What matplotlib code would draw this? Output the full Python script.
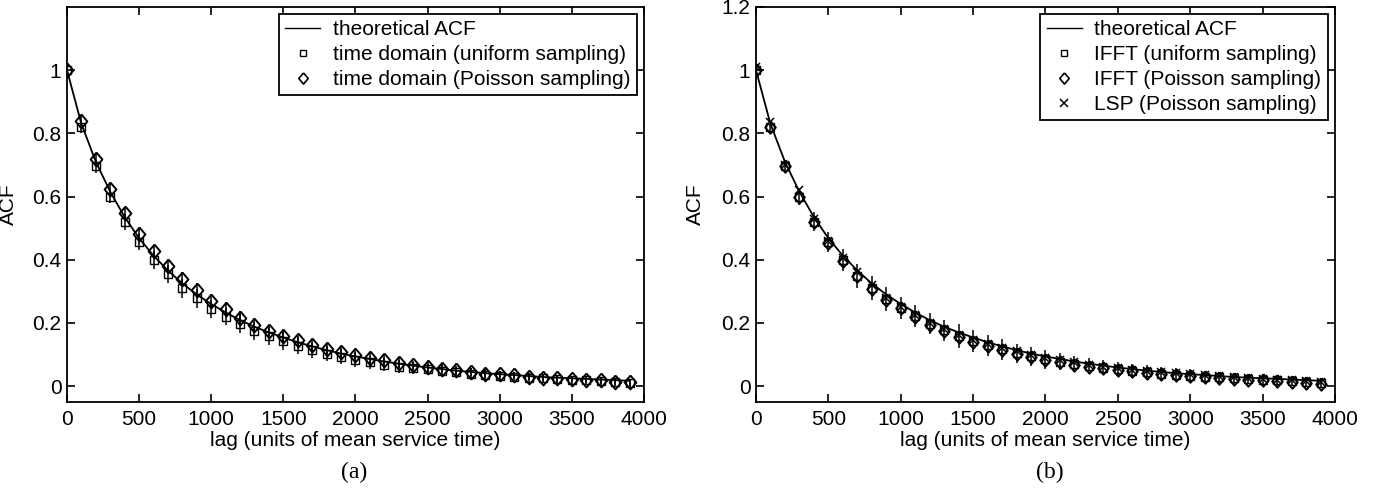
import numpy as np
import matplotlib
matplotlib.use('Agg')
import matplotlib.pyplot as plt
from matplotlib.lines import Line2D

plt.rcParams['font.family'] = ['Liberation Sans', 'DejaVu Sans']

## lags (units of mean service time)
lags = [0, 100, 200, 300, 400, 500, 600, 700, 800, 900,
        1000, 1100, 1200, 1300, 1400, 1500, 1600, 1700, 1800, 1900,
        2000, 2100, 2200, 2300, 2400, 2500, 2600, 2700, 2800, 2900,
        3000, 3100, 3200, 3300, 3400, 3500, 3600, 3700, 3800, 3900]

## theoretical ACF
theory = [1.0, 0.83, 0.71, 0.615, 0.535, 0.468, 0.413, 0.366, 0.325, 0.29,
          0.26, 0.233, 0.209, 0.188, 0.17, 0.154, 0.139, 0.126, 0.114, 0.103,
          0.094, 0.086, 0.078, 0.071, 0.065, 0.059, 0.054, 0.049, 0.045, 0.041,
          0.038, 0.035, 0.032, 0.029, 0.027, 0.025, 0.023, 0.021, 0.019, 0.017]

## (a) time domain, uniform sampling
td_uni = [1.0, 0.82, 0.695, 0.60, 0.52, 0.455, 0.40, 0.355, 0.31, 0.278,
          0.245, 0.22, 0.197, 0.175, 0.158, 0.142, 0.128, 0.115, 0.103, 0.093,
          0.084, 0.075, 0.068, 0.062, 0.057, 0.053, 0.048, 0.044, 0.04, 0.036,
          0.033, 0.03, 0.027, 0.025, 0.022, 0.02, 0.018, 0.016, 0.013, 0.01]
td_uni_err = [0.005, 0.02, 0.02, 0.022, 0.025, 0.025, 0.028, 0.028, 0.03, 0.03,
              0.028, 0.028, 0.03, 0.028, 0.028, 0.028, 0.026, 0.026, 0.024, 0.024,
              0.024, 0.022, 0.02, 0.02, 0.02, 0.018, 0.018, 0.016, 0.016, 0.016,
              0.015, 0.015, 0.014, 0.014, 0.013, 0.013, 0.012, 0.012, 0.012, 0.012]

## (a) time domain, Poisson sampling
td_poi = [1.0, 0.84, 0.72, 0.625, 0.547, 0.483, 0.428, 0.38, 0.34, 0.303,
          0.271, 0.244, 0.217, 0.194, 0.175, 0.159, 0.145, 0.13, 0.119, 0.108,
          0.099, 0.09, 0.082, 0.074, 0.066, 0.06, 0.055, 0.05, 0.045, 0.04,
          0.037, 0.034, 0.03, 0.027, 0.025, 0.022, 0.02, 0.018, 0.014, 0.012]
td_poi_err = [0.005, 0.015, 0.015, 0.018, 0.018, 0.02, 0.02, 0.022, 0.022, 0.022,
              0.022, 0.022, 0.022, 0.022, 0.02, 0.02, 0.02, 0.02, 0.018, 0.018,
              0.018, 0.016, 0.016, 0.016, 0.015, 0.015, 0.014, 0.014, 0.013, 0.013,
              0.012, 0.012, 0.012, 0.011, 0.011, 0.01, 0.01, 0.01, 0.01, 0.01]

## (b) IFFT uniform / Poisson, LSP Poisson
ifft_uni = [1.0, 0.82, 0.695, 0.60, 0.52, 0.455, 0.398, 0.35, 0.31, 0.275,
            0.247, 0.222, 0.198, 0.177, 0.158, 0.143, 0.129, 0.116, 0.104, 0.094,
            0.085, 0.077, 0.07, 0.064, 0.058, 0.054, 0.049, 0.044, 0.04, 0.036,
            0.033, 0.03, 0.028, 0.025, 0.022, 0.02, 0.018, 0.016, 0.013, 0.01]
ifft_poi = [1.0, 0.82, 0.695, 0.60, 0.52, 0.453, 0.396, 0.35, 0.308, 0.273,
            0.246, 0.22, 0.195, 0.175, 0.155, 0.14, 0.127, 0.114, 0.102, 0.092,
            0.083, 0.075, 0.068, 0.062, 0.056, 0.052, 0.047, 0.042, 0.038, 0.034,
            0.031, 0.028, 0.026, 0.023, 0.02, 0.018, 0.016, 0.014, 0.011, 0.008]
lsp_poi = [1.01, 0.835, 0.70, 0.62, 0.53, 0.46, 0.405, 0.36, 0.32, 0.28,
           0.25, 0.225, 0.2, 0.18, 0.163, 0.147, 0.133, 0.12, 0.11, 0.1,
           0.09, 0.082, 0.075, 0.068, 0.062, 0.058, 0.052, 0.048, 0.045, 0.041,
           0.04, 0.034, 0.031, 0.03, 0.027, 0.024, 0.021, 0.019, 0.016, 0.012]
ifft_err = [0.005, 0.015, 0.02, 0.028, 0.03, 0.032, 0.035, 0.038, 0.038, 0.038,
            0.035, 0.035, 0.033, 0.033, 0.038, 0.035, 0.033, 0.033, 0.03, 0.03,
            0.03, 0.027, 0.024, 0.024, 0.024, 0.022, 0.022, 0.022, 0.02, 0.02,
            0.02, 0.018, 0.018, 0.018, 0.016, 0.016, 0.016, 0.015, 0.015, 0.015]

xticks = [0, 500, 1000, 1500, 2000, 2500, 3000, 3500, 4000]
FS = 15

## diamond a bit narrower than tall
diamond = [(0, 1), (0.85, 0), (0, -1), (-0.85, 0), (0, 1)]

fig = plt.figure(figsize=(13.78, 4.92), dpi=100)
axa = fig.add_axes([0.0486, 0.183, 0.4187, 0.803])
axb = fig.add_axes([0.5486, 0.183, 0.4202, 0.803])


def style_axes(ax, yticks, ylab_x):
    ax.set_xlim(0, 4000)
    ax.set_ylim(-0.05, 1.2)
    ax.set_xticks(xticks)
    ax.set_yticks(yticks)
    ax.set_yticklabels(['%g' % v for v in yticks])
    ax.tick_params(direction='in', top=True, right=True, length=6, width=1.2,
                   labelsize=FS, pad=4)
    ax.tick_params(axis='x', pad=6)
    for s in ax.spines.values():
        s.set_linewidth(1.3)
    ax.set_xlabel('lag (units of mean service time)', fontsize=FS, labelpad=1)
    ax.set_ylabel('ACF', fontsize=FS)
    ax.yaxis.set_label_coords(ylab_x, 0.5)


def make_legend(ax, handles):
    leg = ax.legend(handles=handles, loc='upper right', fontsize=FS, frameon=True,
                    fancybox=False, edgecolor='black', framealpha=1,
                    borderpad=0.3, labelspacing=0.28, handlelength=1.7,
                    handletextpad=0.6, borderaxespad=0.35)
    leg.get_frame().set_linewidth(1.3)


line_h = Line2D([], [], color='black', lw=1.0, label='theoretical ACF')

## panel (a)
axa.plot(lags, theory, color='black', lw=1.3)
axa.errorbar(lags, td_uni, yerr=td_uni_err, fmt='s', ms=5.5, mfc='none', mec='black',
             mew=1.0, ecolor='black', elinewidth=1.1, capsize=0)
axa.errorbar(lags, td_poi, yerr=td_poi_err, fmt='none', ecolor='black',
             elinewidth=1.1, capsize=0)
axa.plot(lags, td_poi, ls='none', marker=diamond, ms=10, mfc='none', mec='black',
         mew=1.4)
style_axes(axa, [0, 0.2, 0.4, 0.6, 0.8, 1], -0.085)
make_legend(axa, [
    line_h,
    Line2D([], [], ls='none', marker='s', ms=4.5, mfc='none', mec='black', mew=1.0,
           label='time domain (uniform sampling)'),
    Line2D([], [], ls='none', marker=diamond, ms=8, mfc='none', mec='black', mew=1.2,
           label='time domain (Poisson sampling)'),
])
fig.text(0.257, 0.028, '(a)', fontsize=17, family='Liberation Serif', ha='center')

## panel (b)
axb.plot(lags, theory, color='black', lw=1.3)
axb.errorbar(lags, ifft_uni, yerr=ifft_err, fmt='s', ms=5.5, mfc='none', mec='black',
             mew=1.0, ecolor='black', elinewidth=1.1, capsize=0)
axb.plot(lags, ifft_poi, ls='none', marker=diamond, ms=9, mfc='none', mec='black',
         mew=1.4)
axb.plot(lags, lsp_poi, 'x', ms=6, mec='black', mew=1.1, linestyle='none')
style_axes(axb, [0, 0.2, 0.4, 0.6, 0.8, 1, 1.2], -0.088)
make_legend(axb, [
    line_h,
    Line2D([], [], ls='none', marker='s', ms=4.5, mfc='none', mec='black', mew=1.0,
           label='IFFT (uniform sampling)'),
    Line2D([], [], ls='none', marker=diamond, ms=8, mfc='none', mec='black', mew=1.2,
           label='IFFT (Poisson sampling)'),
    Line2D([], [], ls='none', marker='x', ms=5.5, mec='black', mew=1.1,
           label='LSP (Poisson sampling)'),
])
fig.text(0.762, 0.028, '(b)', fontsize=17, family='Liberation Serif', ha='center')

fig.savefig('out.png', dpi=100)
